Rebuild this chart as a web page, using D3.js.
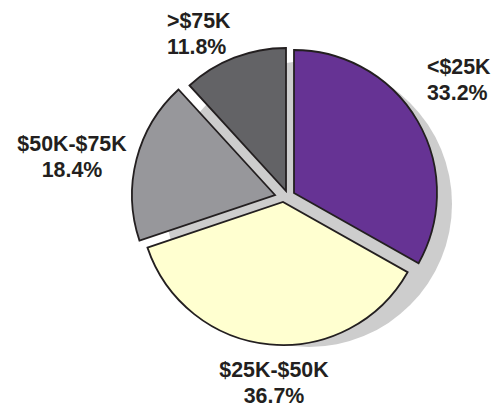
<!DOCTYPE html>
<html>
<head>
<meta charset="utf-8">
<script src="https://cdn.jsdelivr.net/npm/d3@7/dist/d3.min.js"></script>
<style>
  html, body { margin: 0; padding: 0; background: #fff; }
  svg { display: block; }
  text { font-family: "Liberation Sans", Arial, Helvetica, sans-serif; font-weight: bold; fill: #231f20; }
</style>
</head>
<body>
<svg id="chart" width="493" height="409"></svg>
<script>
// Household income distribution
const categories = ["<$25K", "$25K-$50K", "$50K-$75K", ">$75K"];
const shares = [33.2, 36.7, 18.4, 11.8];
const colors = ["#663394", "#ffffd0", "#97979b", "#636366"];

// layout
const width = 493, height = 409;
const center = [286, 196];
const radius = 143;
const shadowShift = [23, 8];
// per-slice pull-out from the centre, in px
const sliceShift = [[8, -3], [-3, 6], [-11, -1], [0, -5]];
// label anchors: [angle in degrees clockwise from 12 o'clock, distance], and text anchor
const labelAt = [[49.1, 186.5, "start"], [183.8, 181.4, "middle"], [-78.1, 218.7, "middle"], [-35.3, 206, "start"]];
const lineGap = 26;
const fontSize = 22.5;
const narrow = 0.95; // condensed lettering

const svg = d3.select("#chart");
const g = svg.append("g").attr("transform", `translate(${center[0]},${center[1]})`);

const pie = d3.pie().sort(null).value(d => d).startAngle(0).endAngle(2 * Math.PI);
const arcs = pie(shares);
const arc = d3.arc().innerRadius(0).outerRadius(radius);

// drop shadow: the whole disc, offset
g.append("circle")
  .attr("cx", shadowShift[0])
  .attr("cy", shadowShift[1])
  .attr("r", radius)
  .attr("fill", "#cdcdcd");

g.selectAll("path.slice")
  .data(arcs)
  .join("path")
  .attr("class", "slice")
  .attr("transform", (d, i) => `translate(${sliceShift[i][0]},${sliceShift[i][1]})`)
  .attr("d", arc)
  .attr("fill", (d, i) => colors[i])
  .attr("stroke", "#231f20")
  .attr("stroke-width", 1.8)
  .attr("stroke-linejoin", "miter");

const labels = g.selectAll("text.label")
  .data(arcs)
  .join("text")
  .attr("class", "label")
  .attr("font-size", fontSize)
  .attr("text-anchor", (d, i) => labelAt[i][2])
  .attr("transform", (d, i) => {
    const a = labelAt[i][0] * Math.PI / 180, r = labelAt[i][1];
    return `translate(${r * Math.sin(a)},${-r * Math.cos(a)}) scale(${narrow},1)`;
  });

labels.append("tspan").attr("x", 0).attr("y", 0).text((d, i) => categories[i]);
labels.append("tspan").attr("x", 0).attr("y", lineGap).text(d => d.data.toFixed(1) + "%");
</script>
</body>
</html>
